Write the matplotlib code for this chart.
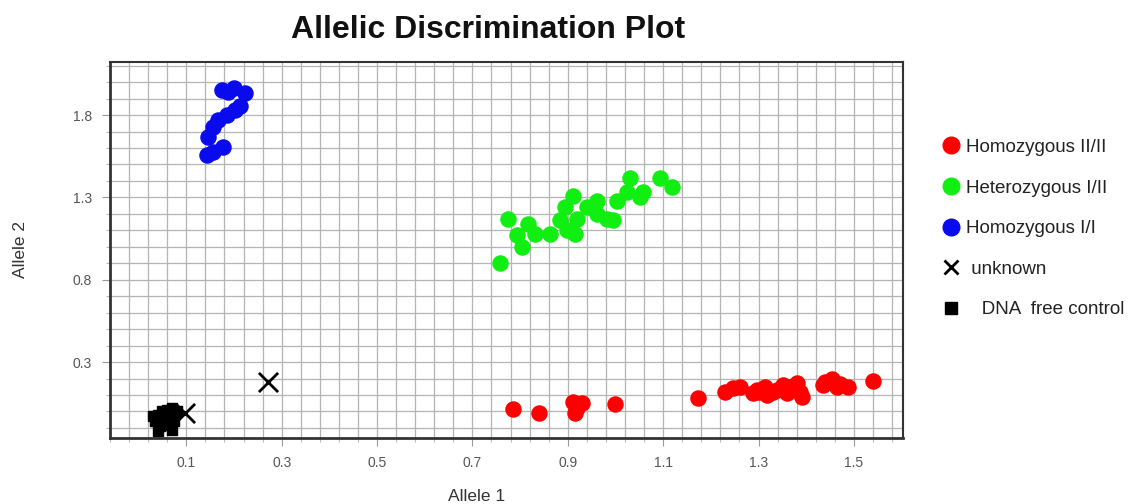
import matplotlib

matplotlib.use("Agg")
import matplotlib.pyplot as plt
from matplotlib.lines import Line2D
from matplotlib.ticker import MultipleLocator

plt.rcParams["font.family"] = ["Liberation Sans", "DejaVu Sans"]

# allele signal values per genotype call
hom2_x = [0.786, 0.840, 0.911, 0.920, 0.916, 0.930, 0.999, 1.173, 1.230, 1.247,
          1.261, 1.289, 1.297, 1.300, 1.314, 1.318, 1.330, 1.339, 1.352, 1.360,
          1.366, 1.375, 1.387, 1.391, 1.381, 1.435, 1.440, 1.454, 1.465, 1.470,
          1.488, 1.540]
hom2_y = [0.015, -0.010, 0.057, 0.020, -0.010, 0.050, 0.045, 0.080, 0.120, 0.140,
          0.150, 0.110, 0.130, 0.120, 0.150, 0.100, 0.120, 0.130, 0.160, 0.110,
          0.150, 0.140, 0.120, 0.090, 0.170, 0.160, 0.180, 0.200, 0.150, 0.165,
          0.150, 0.185]

het_x = [0.758, 0.775, 0.804, 0.817, 0.794, 0.832, 0.863, 0.884, 0.895, 0.911,
         0.916, 0.920, 0.941, 0.962, 0.983, 0.995, 1.004, 1.025, 1.031, 1.052,
         1.058, 1.094, 1.119, 0.962, 0.899]
het_y = [0.90, 1.17, 1.00, 1.14, 1.07, 1.08, 1.08, 1.16, 1.24, 1.31,
         1.08, 1.17, 1.24, 1.28, 1.17, 1.16, 1.28, 1.33, 1.42, 1.30,
         1.33, 1.42, 1.36, 1.20, 1.10]

hom1_x = [0.175, 0.199, 0.224, 0.188, 0.213, 0.203, 0.186, 0.167, 0.157, 0.146,
          0.178, 0.157, 0.144]
hom1_y = [1.951, 1.964, 1.933, 1.940, 1.854, 1.830, 1.800, 1.769, 1.727, 1.666,
          1.605, 1.575, 1.557]

unknown_x = [0.098, 0.272]
unknown_y = [-0.010, 0.180]

ntc_x = [0.040, 0.050, 0.060, 0.070, 0.080, 0.050, 0.065, 0.035, 0.045, 0.060,
         0.075, 0.040, 0.070, 0.030]
ntc_y = [-0.020, 0.000, 0.010, 0.020, 0.000, -0.050, -0.040, -0.060, -0.090, -0.080,
         -0.060, -0.120, -0.110, -0.030]

x_ticks = [0.1, 0.3, 0.5, 0.7, 0.9, 1.1, 1.3, 1.5]
y_ticks = [0.3, 0.8, 1.3, 1.8]

labels = ["Homozygous II/II", "Heterozygous I/II", "Homozygous I/I",
          " unknown", "   DNA  free control"]

W, H = 1141, 504
fig = plt.figure(figsize=(W / 100, H / 100), dpi=100)
ax = fig.add_axes([110 / W, 1 - 438 / H, 793 / W, 376 / H])

ax.set_xlim(-0.06, 1.603)
ax.set_ylim(-0.161, 2.122)

ax.xaxis.set_minor_locator(MultipleLocator(0.04, offset=0.02))
ax.yaxis.set_minor_locator(MultipleLocator(0.1))
ax.set_xticks(x_ticks)
ax.set_yticks(y_ticks)
ax.set_xticklabels([f"{v:.1f}" for v in x_ticks])
ax.set_yticklabels([f"{v:.1f}" for v in y_ticks])
ax.grid(True, which="both", color="#b4b4b4", linewidth=0.9)
ax.set_axisbelow(True)

ax.tick_params(which="major", length=6, width=0.8, color="#999999", pad=7,
               labelsize=10, labelcolor="#555555")
ax.tick_params(which="minor", length=3, width=0.8, color="#bbbbbb")

for side in ["left", "bottom"]:
    ax.spines[side].set_linewidth(2.0)
    ax.spines[side].set_color("#333333")
for side in ["top", "right"]:
    ax.spines[side].set_linewidth(1.5)
    ax.spines[side].set_color("#333333")

ms = 118
ax.scatter(hom2_x, hom2_y, s=ms, color="#ff0000", zorder=3)
ax.scatter(het_x, het_y, s=ms, color="#11ee11", zorder=3)
ax.scatter(hom1_x, hom1_y, s=ms, color="#0a0aee", zorder=3)
ax.scatter(ntc_x, ntc_y, s=60, marker="s", color="black", zorder=4)
ax.scatter(unknown_x, unknown_y, s=190, marker="x", color="black",
           linewidths=2, zorder=5)

ax.set_xlabel("Allele 1", fontsize=12.5, color="#333333")
ax.set_ylabel("Allele 2", fontsize=12.5, color="#333333")
ax.xaxis.set_label_coords(0.462, -0.135)
ax.yaxis.set_label_coords(-0.104, 0.5)

fig.text(488 / W, 1 - 38 / H, "Allelic Discrimination Plot", ha="center",
         va="baseline", fontsize=23, fontweight="bold", color="#111111")

handles = [
    Line2D([], [], marker="o", linestyle="", markersize=12, color="#ff0000"),
    Line2D([], [], marker="o", linestyle="", markersize=12, color="#11ee11"),
    Line2D([], [], marker="o", linestyle="", markersize=12, color="#0a0aee"),
    Line2D([], [], marker="x", linestyle="", markersize=10, markeredgewidth=2,
           color="black"),
    Line2D([], [], marker="s", linestyle="", markersize=9, color="black"),
]
fig.legend(handles, labels, loc="upper left", bbox_to_anchor=(925 / W, 1 - 122 / H),
           frameon=False, fontsize=13.5, labelspacing=1.25, handletextpad=0.3,
           handlelength=1.0, labelcolor="#222222")

fig.savefig("out.png", dpi=100, facecolor="white")
